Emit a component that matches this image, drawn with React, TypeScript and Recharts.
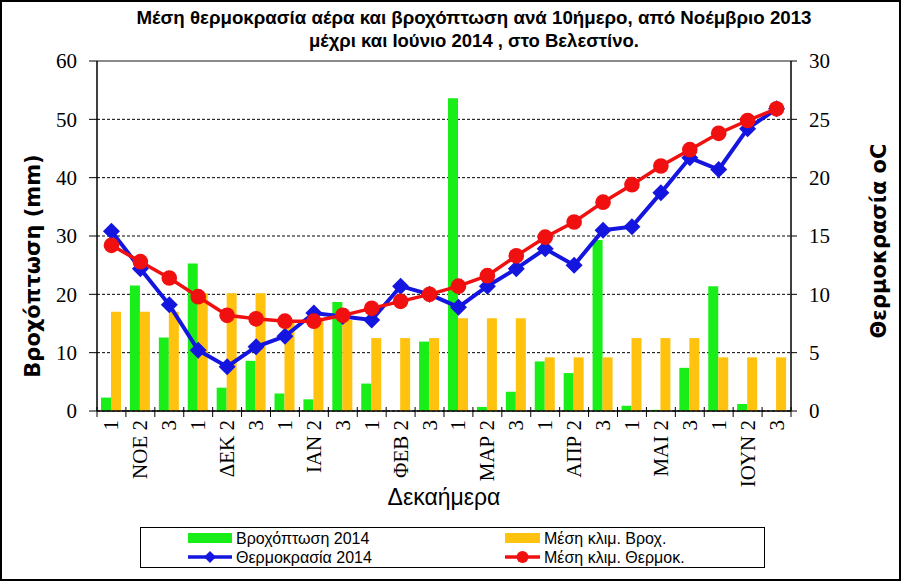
import React from 'react';
import {
  ComposedChart,
  Bar,
  Line,
  XAxis,
  YAxis,
  CartesianGrid,
  ReferenceLine,
} from 'recharts';

// dekades Nov 2013 - Jun 2014
const decades = [
  '1', 'ΝΟΕ 2', '3',
  '1', 'ΔΕΚ 2', '3',
  '1', 'ΙΑΝ 2', '3',
  '1', 'ΦΕΒ 2', '3',
  '1', 'ΜΑΡ 2', '3',
  '1', 'ΑΠΡ 2', '3',
  '1', 'ΜΑΙ 2', '3',
  '1', 'ΙΟΥΝ 2', '3',
];

const rain2014 = [
  2.3, 21.5, 12.6, 25.3, 4.0, 8.6, 3.0, 2.0, 18.7, 4.7, 0, 11.9,
  53.6, 0.7, 3.3, 8.5, 6.5, 29.3, 0.9, 0.2, 7.4, 21.4, 1.2, 0,
];

const rainClim = [
  17.0, 17.0, 17.0, 20.2, 20.2, 20.2, 15.6, 15.6, 15.6, 12.5, 12.5, 12.5,
  15.9, 15.9, 15.9, 9.2, 9.2, 9.2, 12.5, 12.5, 12.5, 9.2, 9.2, 9.2,
];

const temp2014 = [
  15.4, 12.2, 9.1, 5.2, 3.8, 5.5, 6.4, 8.4, 8.1, 7.8, 10.7, 10.0,
  8.9, 10.7, 12.2, 13.9, 12.5, 15.5, 15.8, 18.7, 21.7, 20.7, 24.2, 25.9,
];

const tempClim = [
  14.2, 12.8, 11.4, 9.8, 8.2, 7.9, 7.7, 7.7, 8.2, 8.8, 9.4, 10.0,
  10.7, 11.6, 13.3, 14.9, 16.2, 17.9, 19.4, 21.0, 22.4, 23.8, 24.9, 25.9,
];

const rainTicks = [0, 10, 20, 30, 40, 50, 60];
const tempTicks = [0, 5, 10, 15, 20, 25, 30];

const data = decades.map((d, i) => ({
  name: d,
  rain: rain2014[i],
  rainClim: rainClim[i],
  temp: temp2014[i],
  tempClim: tempClim[i],
}));

const GREEN = '#19ee19';
const YELLOW = '#ffc20e';
const BLUE = '#1515e0';
const RED = '#f01010';

const W = 901;
const H = 581;
const PLOT_LEFT = 97;
const PLOT_RIGHT = 791;
const BAND = (PLOT_RIGHT - PLOT_LEFT) / decades.length;

const serif = '"Liberation Serif", "Times New Roman", serif';
const sans = '"Liberation Sans", Arial, sans-serif';

const DecadeTick = (props: any) => {
  const { x, y, payload, index } = props;
  const left = x - BAND / 2;
  return (
    <g>
      <line x1={left} x2={left} y1={y - 4} y2={y + 6} stroke="#000" strokeWidth={1} />
      {index === decades.length - 1 && (
        <line x1={x + BAND / 2} x2={x + BAND / 2} y1={y - 4} y2={y + 6} stroke="#000" strokeWidth={1} />
      )}
      <text
        x={x}
        y={y + 9}
        transform={`rotate(-90, ${x}, ${y + 9})`}
        textAnchor="end"
        dominantBaseline="central"
        fontFamily={serif}
        fontSize={21}
        fill="#000"
      >
        {payload.value}
      </text>
    </g>
  );
};

const Diamond = (props: any) => {
  const { cx, cy } = props;
  if (cx == null || cy == null) return null;
  const r = 8.5;
  return (
    <polygon
      points={`${cx},${cy - r} ${cx + r},${cy} ${cx},${cy + r} ${cx - r},${cy}`}
      fill={BLUE}
    />
  );
};

const Circle = (props: any) => {
  const { cx, cy } = props;
  if (cx == null || cy == null) return null;
  return <circle cx={cx} cy={cy} r={7.8} fill={RED} />;
};

const AxisTitle = ({ px, py, text }: any) => (
  <text
    x={px}
    y={py}
    transform={`rotate(-90, ${px}, ${py})`}
    textAnchor="middle"
    dominantBaseline="central"
    fontFamily='"DejaVu Sans", Verdana, sans-serif'
    fontWeight="bold"
    fontSize={21}
    fill="#000"
  >
    {text}
  </text>
);

const XTitle = () => (
  <text
    x={(PLOT_LEFT + PLOT_RIGHT) / 2}
    y={497}
    textAnchor="middle"
    dominantBaseline="central"
    fontFamily={sans}
    fontSize={23}
    fill="#000"
  >
    Δεκαήμερα
  </text>
);

const legendItems = [
  { label: 'Βροχόπτωση 2014', kind: 'bar', color: GREEN, col: 0, row: 0 },
  { label: 'Μέση κλιμ. Βροχ.', kind: 'bar', color: YELLOW, col: 1, row: 0 },
  { label: 'Θερμοκρασία 2014', kind: 'diamond', color: BLUE, col: 0, row: 1 },
  { label: 'Μέση κλιμ. Θερμοκ.', kind: 'circle', color: RED, col: 1, row: 1 },
];

const LegendBox = () => (
  <div
    style={{
      position: 'absolute',
      left: 140,
      top: 527,
      width: 625,
      height: 41,
      border: '1px solid #000',
      boxSizing: 'border-box',
      background: '#fff',
    }}
  >
    <svg width={625} height={41} style={{ position: 'absolute', left: -1, top: -1 }}>
      {legendItems.map((it) => {
        const x0 = it.col === 0 ? 48 : 365;
        const x1 = it.col === 0 ? 92 : 400;
        const cy = it.row === 0 ? 11 : 30;
        const mid = (x0 + x1) / 2;
        return (
          <g key={it.label}>
            {it.kind === 'bar' && (
              <rect x={x0} y={cy - 5} width={x1 - x0} height={10} fill={it.color} />
            )}
            {it.kind !== 'bar' && (
              <line x1={x0} x2={x1} y1={cy} y2={cy} stroke={it.color} strokeWidth={3.5} />
            )}
            {it.kind === 'diamond' && (
              <polygon
                points={`${mid},${cy - 6} ${mid + 6},${cy} ${mid},${cy + 6} ${mid - 6},${cy}`}
                fill={it.color}
              />
            )}
            {it.kind === 'circle' && <circle cx={mid} cy={cy} r={6} fill={it.color} />}
            <text
              x={x1 + 4}
              y={cy}
              dominantBaseline="central"
              fontFamily={sans}
              fontSize={16}
              fill="#000"
            >
              {it.label}
            </text>
          </g>
        );
      })}
    </svg>
  </div>
);

export default function App() {
  return (
    <div
      style={{
        position: 'absolute',
        left: 0,
        top: 0,
        width: W,
        height: H,
        background: '#fff',
        overflow: 'hidden',
      }}
    >
      <svg width={W} height={60} style={{ position: 'absolute', left: 0, top: 0 }}>
        <text
          x={474}
          y={24}
          textAnchor="middle"
          fontFamily={sans}
          fontWeight="bold"
          fontSize={18}
          textLength={675}
          lengthAdjust="spacingAndGlyphs"
        >
          Μέση θερμοκρασία αέρα και βροχόπτωση ανά 10ήμερο, από Νοέμβριο 2013
        </text>
        <text
          x={474}
          y={47}
          textAnchor="middle"
          fontFamily={sans}
          fontWeight="bold"
          fontSize={18}
          textLength={330}
          lengthAdjust="spacingAndGlyphs"
        >
          μέχρι και Ιούνιο 2014 , στο Βελεστίνο.
        </text>
      </svg>

      <div style={{ position: 'absolute', left: 0, top: 0 }}>
        <ComposedChart
          width={W}
          height={H}
          data={data}
          margin={{ top: 61, right: 0, bottom: 140, left: 0 }}
          barGap={0}
        >
          <CartesianGrid
            yAxisId="left"
            vertical={false}
            stroke="#000"
            strokeDasharray="3 2"
            strokeWidth={1}
          />
          <XAxis
            dataKey="name"
            height={30}
            interval={0}
            tickLine={false}
            tickSize={0}
            tickMargin={0}
            axisLine={{ stroke: '#000', strokeWidth: 1.5 }}
            tick={<DecadeTick />}
            label={<XTitle />}
          />
          <YAxis
            yAxisId="left"
            orientation="left"
            width={97}
            domain={[0, 60]}
            ticks={rainTicks}
            interval={0}
            tickSize={8}
            tickMargin={12}
            axisLine={{ stroke: '#000', strokeWidth: 1.5 }}
            tickLine={{ stroke: '#000' }}
            tick={{ fill: '#000', fontFamily: serif, fontSize: 21 }}
            label={<AxisTitle px={33} py={266} text="Βροχόπτωση (mm)" />}
          />
          <YAxis
            yAxisId="right"
            orientation="right"
            width={110}
            domain={[0, 30]}
            ticks={tempTicks}
            interval={0}
            tickSize={6}
            tickMargin={12}
            axisLine={{ stroke: '#000', strokeWidth: 1.5 }}
            tickLine={{ stroke: '#000' }}
            tick={{ fill: '#000', fontFamily: serif, fontSize: 21 }}
            label={<AxisTitle px={879} py={241} text="Θερμοκρασία oC" />}
          />
          <ReferenceLine yAxisId="left" y={60} stroke="#8a8a8a" strokeWidth={2} />
          <Bar
            yAxisId="left"
            dataKey="rain"
            name="Βροχόπτωση 2014"
            fill={GREEN}
            barSize={10}
            isAnimationActive={false}
          />
          <Bar
            yAxisId="left"
            dataKey="rainClim"
            name="Μέση κλιμ. Βροχ."
            fill={YELLOW}
            barSize={10}
            isAnimationActive={false}
          />
          <Line
            yAxisId="right"
            type="linear"
            dataKey="temp"
            name="Θερμοκρασία 2014"
            stroke={BLUE}
            strokeWidth={4}
            dot={<Diamond />}
            activeDot={false}
            isAnimationActive={false}
          />
          <Line
            yAxisId="right"
            type="linear"
            dataKey="tempClim"
            name="Μέση κλιμ. Θερμοκ."
            stroke={RED}
            strokeWidth={3.5}
            dot={<Circle />}
            activeDot={false}
            isAnimationActive={false}
          />
        </ComposedChart>
      </div>

      <LegendBox />

      <div
        style={{
          position: 'absolute',
          left: 0,
          top: 0,
          width: W,
          height: H,
          border: '2px solid #000',
          boxSizing: 'border-box',
          pointerEvents: 'none',
        }}
      />
    </div>
  );
}
